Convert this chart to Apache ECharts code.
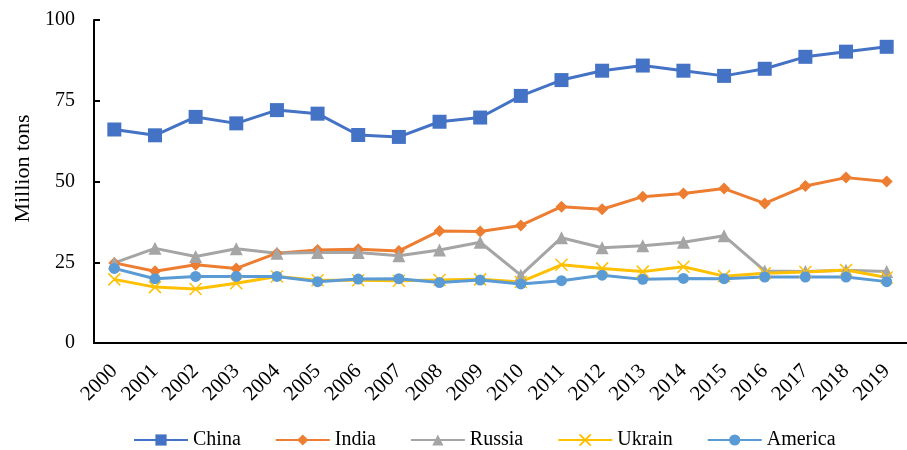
<!DOCTYPE html>
<html><head><meta charset="utf-8">
<script src="https://cdn.jsdelivr.net/npm/echarts@6/dist/echarts.min.js"></script>
<style>html,body{margin:0;padding:0;background:#fff}#c{width:907px;height:450px}</style>
</head><body><div id="c"></div>
<script>
const years = ['2000','2001','2002','2003','2004','2005','2006','2007','2008','2009','2010','2011','2012','2013','2014','2015','2016','2017','2018','2019'];
const china   = [66.1,64.3,70.0,68.0,72.1,71.0,64.4,63.8,68.5,69.8,76.5,81.4,84.3,85.9,84.3,82.7,84.9,88.6,90.2,91.7];
const india   = [24.8,22.2,24.2,23.1,27.8,28.8,29.0,28.5,34.7,34.5,36.4,42.2,41.4,45.3,46.3,47.8,43.2,48.6,51.2,50.0];
const russia  = [24.8,29.3,26.8,29.2,27.8,28.0,28.0,27.0,28.8,31.2,21.0,32.6,29.5,30.1,31.2,33.2,22.3,22.1,22.5,22.1];
const ukraine = [19.7,17.3,16.7,18.5,20.6,19.4,19.4,19.3,19.5,19.7,18.9,24.2,23.1,22.1,23.6,20.7,21.6,22.0,22.6,20.3];
const america = [23.1,19.9,20.6,20.6,20.6,19.0,19.8,19.9,18.7,19.5,18.3,19.3,21.0,19.7,20.0,19.9,20.4,20.4,20.4,19.0];
const yTicks = [0,25,50,75,100];

const font = 'Liberation Serif';
const crossPath = 'path://M0,0L10,10M10,0L0,10';
function mk(name, data, color, symbol, size, extra) {
  return Object.assign({
    name, type: 'line', data, symbol, symbolSize: size,
    lineStyle: {color, width: 3},
    itemStyle: {color},
    showAllSymbol: true
  }, extra || {});
}
const chart = echarts.init(document.getElementById('c'));
chart.setOption({
  animation: false,
  textStyle: {fontFamily: font},
  grid: {left: 94, right: 0, top: 20, bottom: 107},
  legend: {
    top: 425, left: 128, itemGap: 34, itemWidth: 54, itemHeight: 14,
    textStyle: {fontFamily: font, fontSize: 20, color: '#000'},
    data: ['China','India','Russia','Ukrain','America']
  },
  xAxis: {
    type: 'category', data: years, boundaryGap: true,
    axisLine: {lineStyle: {color: '#000', width: 2}},
    axisTick: {inside: true, length: 6, interval: 0, lineStyle: {color: '#000', width: 2}},
    axisLabel: {rotate: 45, interval: 0, fontFamily: font, fontSize: 21, color: '#000', margin: 25}
  },
  yAxis: {
    type: 'value', min: yTicks[0], max: yTicks[yTicks.length-1], interval: 25,
    name: 'Million tons', nameLocation: 'middle', nameGap: 55, nameRotate: 90,
    nameTextStyle: {fontFamily: font, fontSize: 22, color: '#000', padding: [0, 0, 0, 26]},
    splitLine: {show: false},
    axisLine: {show: true, lineStyle: {color: '#000', width: 2}},
    axisTick: {show: true, inside: true, length: 6, lineStyle: {color: '#000', width: 2}},
    axisLabel: {fontFamily: font, fontSize: 20, color: '#000', margin: 19}
  },
  series: [
    mk('China', china, '#4472C4', 'rect', 14),
    mk('India', india, '#ED7D31', 'diamond', 12),
    mk('Russia', russia, '#A5A5A5', 'triangle', 13),
    mk('Ukrain', ukraine, '#FFC000', crossPath, 12, {itemStyle: {color: 'none', borderColor: '#FFC000', borderWidth: 1.5}}),
    mk('America', america, '#5B9BD5', 'circle', 11)
  ]
});
</script></body></html>
